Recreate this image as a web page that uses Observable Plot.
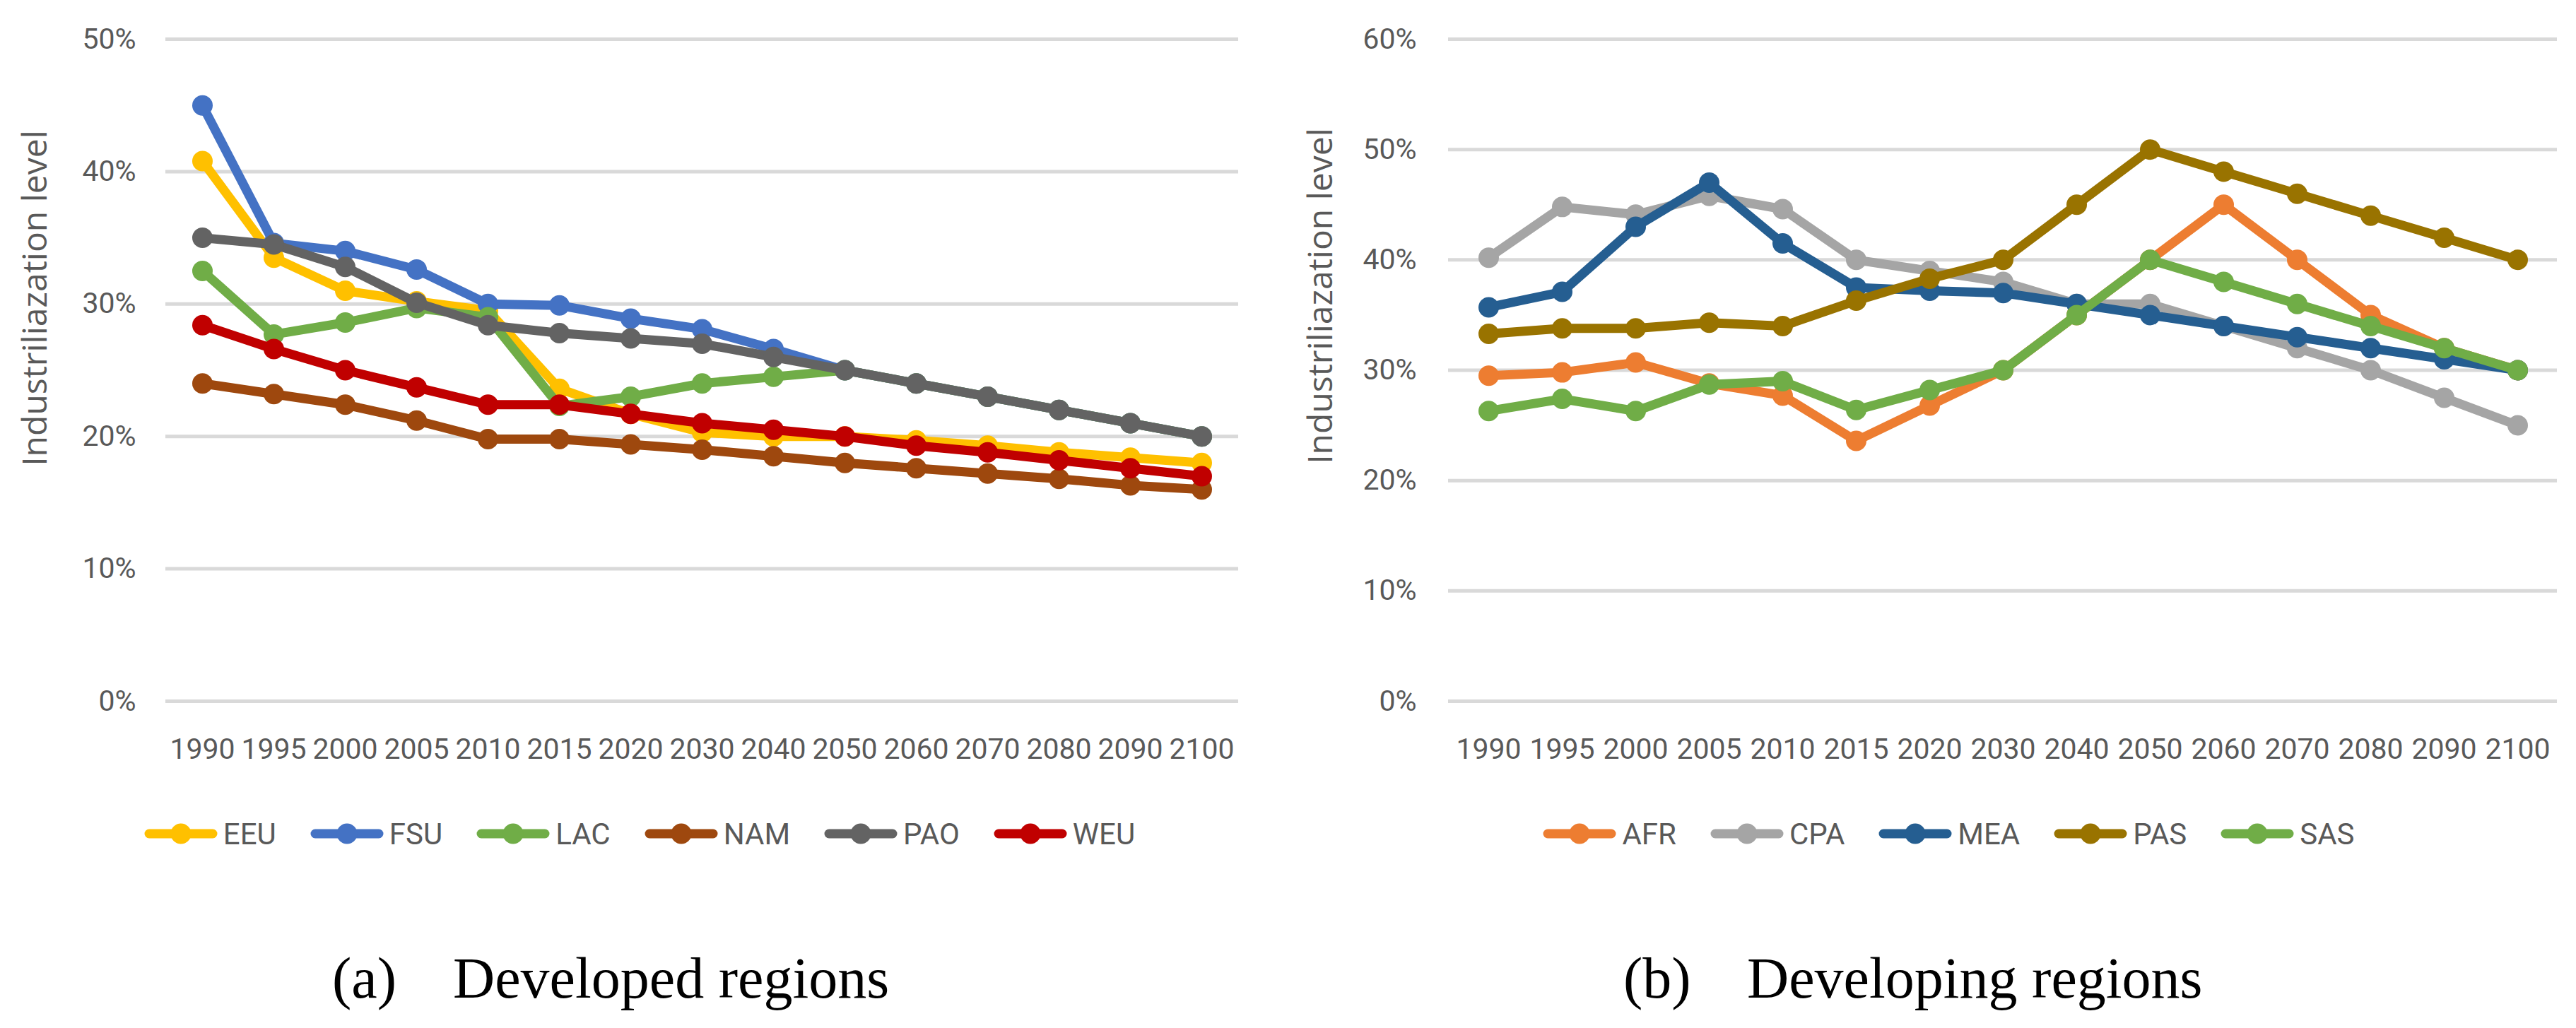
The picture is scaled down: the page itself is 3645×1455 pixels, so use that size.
<!DOCTYPE html>
<html>
<head>
<meta charset="utf-8">
<script src="https://cdn.jsdelivr.net/npm/d3@7"></script>
<script src="https://cdn.jsdelivr.net/npm/@observablehq/plot@0.6"></script>
<style>
  html, body { margin: 0; padding: 0; background: #ffffff; }
  body { width: 3645px; height: 1455px; position: relative; overflow: hidden; }
  .panel { position: absolute; top: 0; }
  .legend { position: absolute; top: 1150px; height: 60px; display: flex; align-items: center; justify-content: center;
            font-family: Roboto, "Liberation Sans", sans-serif; font-size: 42px; color: #595959; }
  .legend .item { display: flex; align-items: center; margin: 0 24px; }
  .legend .item svg { margin-right: 8px; }
  .cap { position: absolute; top: 1344px; font-family: "Liberation Serif", "DejaVu Serif", serif; font-size: 82px; line-height: 82px; color: #000; white-space: nowrap; }
</style>
</head>
<body>
<script>
// ---------- data ----------
const years = ["1990","1995","2000","2005","2010","2015","2020","2030","2040","2050","2060","2070","2080","2090","2100"];

const developedRegions = ["EEU", "FSU", "LAC", "NAM", "PAO", "WEU"];
const developedColors  = ["#FFC000", "#4472C4", "#70AD47", "#9E480E", "#636363", "#C00000"];
const EEU = [40.8, 33.5, 31.0, 30.2, 29.5, 23.6, 21.7, 20.3, 20.0, 20.0, 19.7, 19.3, 18.8, 18.4, 18.0];
const FSU = [45.0, 34.6, 34.0, 32.6, 30.0, 29.9, 28.9, 28.1, 26.6, 25.0, 24.0, 23.0, 22.0, 21.0, 20.0];
const LAC = [32.5, 27.7, 28.6, 29.7, 29.0, 22.3, 23.0, 24.0, 24.5, 25.0, 24.0, 23.0, 22.0, 21.0, 20.0];
const NAM = [24.0, 23.2, 22.4, 21.2, 19.8, 19.8, 19.4, 19.0, 18.5, 18.0, 17.6, 17.2, 16.8, 16.3, 16.0];
const PAO = [35.0, 34.5, 32.8, 30.1, 28.4, 27.8, 27.4, 27.0, 26.0, 25.0, 24.0, 23.0, 22.0, 21.0, 20.0];
const WEU = [28.4, 26.6, 25.0, 23.7, 22.4, 22.4, 21.7, 21.0, 20.5, 20.0, 19.3, 18.8, 18.2, 17.6, 17.0];
const developedTicks = [0, 10, 20, 30, 40, 50];

const developingRegions = ["AFR", "CPA", "MEA", "PAS", "SAS"];
const developingColors  = ["#ED7D31", "#A5A5A5", "#255E91", "#997300", "#70AD47"];
const AFR = [29.5, 29.8, 30.7, 28.8, 27.7, 23.6, 26.8, 30.0, 35.0, 40.0, 45.0, 40.0, 35.0, 32.0, 30.0];
const CPA = [40.2, 44.8, 44.1, 45.8, 44.6, 40.0, 39.0, 38.0, 36.0, 36.0, 34.0, 32.0, 30.0, 27.5, 25.0];
const MEA = [35.7, 37.1, 43.0, 47.0, 41.5, 37.5, 37.2, 37.0, 36.0, 35.0, 34.0, 33.0, 32.0, 31.0, 30.0];
const PAS = [33.3, 33.8, 33.8, 34.3, 34.0, 36.3, 38.3, 40.0, 45.0, 50.0, 48.0, 46.0, 44.0, 42.0, 40.0];
const SAS = [26.3, 27.4, 26.3, 28.7, 29.0, 26.4, 28.2, 30.0, 35.0, 40.0, 38.0, 36.0, 34.0, 32.0, 30.0];
const developingTicks = [0, 10, 20, 30, 40, 50, 60];

const yTitle = "Industriliazation level";
const captionA = ["(a)", "Developed regions"];
const captionB = ["(b)", "Developing regions"];

// ---------- drawing ----------
const tickFont = 'Roboto, "Liberation Sans", sans-serif';

function makeChart({regions, colors, values, ticks, width, marginLeft, marginRight, yPad, titleDx, titleDy}) {
  const rows = regions.flatMap((r, i) => years.map((yr, j) => ({region: r, year: yr, value: values[i][j]})));
  const seriesMarks = regions.flatMap(r => {
    const d = rows.filter(row => row.region === r);
    return [
      Plot.line(d, {x: "year", y: "value", stroke: "region", strokeWidth: 13, strokeLinejoin: "round", strokeLinecap: "round"}),
      Plot.dot(d, {x: "year", y: "value", fill: "region", r: 14.5, stroke: null})
    ];
  });
  return Plot.plot({
    width,
    height: 1110,
    marginTop: 55,
    marginBottom: 118,
    marginLeft,
    marginRight,
    style: {fontFamily: tickFont, color: "#595959", background: "transparent", overflow: "visible"},
    x: {type: "point", domain: years, padding: 0.5},
    y: {domain: [0, d3.max(ticks)]},
    color: {domain: regions, range: colors},
    marks: [
      Plot.ruleY(ticks, {stroke: "#D9D9D9", strokeWidth: 5}),
      Plot.axisY({ticks, tickSize: 0, tickPadding: yPad, tickFormat: d => d + "%", fontSize: 41, label: null}),
      Plot.axisX({tickSize: 0, tickPadding: 52, fontSize: 41, label: null}),
      ...seriesMarks,
      Plot.text([yTitle], {text: d => d, frameAnchor: "left", textAnchor: "middle", lineAnchor: "middle",
        rotate: -90, dx: titleDx, dy: titleDy,
        fontSize: 48, fill: "#595959", fontFamily: '"Open Sans", "DejaVu Sans", sans-serif'})
    ]
  });
}

function makeLegend(regions, colors, left, width) {
  const div = document.createElement("div");
  div.className = "legend";
  div.style.left = left + "px";
  div.style.width = width + "px";
  regions.forEach((r, i) => {
    const item = document.createElement("div");
    item.className = "item";
    const svg = d3.create("svg").attr("width", 104).attr("height", 40);
    svg.append("line").attr("x1", 7).attr("x2", 97).attr("y1", 20).attr("y2", 20)
      .attr("stroke", colors[i]).attr("stroke-width", 13).attr("stroke-linecap", "round");
    svg.append("circle").attr("cx", 52).attr("cy", 20).attr("r", 14.5).attr("fill", colors[i]);
    item.appendChild(svg.node());
    const label = document.createElement("span");
    label.textContent = r;
    item.appendChild(label);
    div.appendChild(item);
  });
  document.body.appendChild(div);
}

function makeCaption(parts, x1, x2) {
  parts.forEach((t, i) => {
    const s = document.createElement("div");
    s.className = "cap";
    s.style.left = (i === 0 ? x1 : x2) + "px";
    s.textContent = t;
    document.body.appendChild(s);
  });
}

const left = document.createElement("div");
left.className = "panel";
left.style.left = "0px";
left.appendChild(makeChart({
  regions: developedRegions, colors: developedColors,
  values: [EEU, FSU, LAC, NAM, PAO, WEU], ticks: developedTicks,
  width: 1810, marginLeft: 234, marginRight: 58, yPad: 42, titleDx: -184, titleDy: -102
}));
document.body.appendChild(left);

const right = document.createElement("div");
right.className = "panel";
right.style.left = "1810px";
right.appendChild(makeChart({
  regions: developingRegions, colors: developingColors,
  values: [AFR, CPA, MEA, PAS, SAS], ticks: developingTicks,
  width: 1835, marginLeft: 239, marginRight: 27, yPad: 45, titleDx: -180, titleDy: -105
}));
document.body.appendChild(right);

makeLegend(developedRegions, developedColors, 0, 1810);
makeLegend(developingRegions, developingColors, 1840, 1835);

makeCaption(captionA, 470, 641);
makeCaption(captionB, 2297, 2472);
</script>
</body>
</html>
